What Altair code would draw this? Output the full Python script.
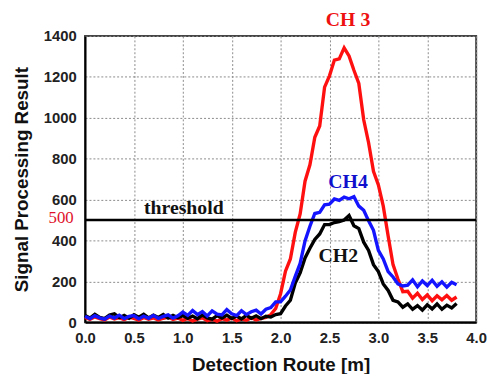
import altair as alt
import pandas as pd

# Detection route positions [m]
route_m = [0.00, 0.05, 0.10, 0.15, 0.20, 0.25, 0.30, 0.35, 0.40, 0.45,
           0.50, 0.55, 0.60, 0.65, 0.70, 0.75, 0.80, 0.85, 0.90, 0.95,
           1.00, 1.05, 1.10, 1.15, 1.20, 1.25, 1.30, 1.35, 1.40, 1.45,
           1.50, 1.55, 1.60, 1.65, 1.70, 1.75, 1.80, 1.85, 1.90, 1.95,
           2.00, 2.05, 2.10, 2.15, 2.20, 2.25, 2.30, 2.35, 2.40, 2.45,
           2.50, 2.55, 2.60, 2.65, 2.70, 2.75, 2.80, 2.85, 2.90, 2.95,
           3.00, 3.05, 3.10, 3.15, 3.20, 3.25, 3.30, 3.35, 3.40, 3.45,
           3.50, 3.55, 3.60, 3.65, 3.70, 3.75, 3.80]

ch3 = [24, 14, 27, 18, 12, 26, 16, 23, 13, 25,
       19, 11, 24, 15, 22, 12, 20, 26, 14, 21,
       10, 19, 7, 16, 22, 8, 15, 6, 18, 11,
       21, 8, 17, 10, 23, 12, 19, 24, 38, 68,
       140, 250, 310, 440, 530, 690, 770, 905, 960, 1150,
       1205, 1282, 1288, 1342, 1302, 1232, 1168, 990, 878, 738,
       672, 568, 422, 282, 212, 150, 152, 118, 142, 112,
       134, 106, 130, 110, 131, 108, 124]

ch4 = [30, 18, 33, 22, 16, 31, 21, 35, 18, 29,
       33, 17, 31, 20, 34, 19, 29, 37, 21, 32,
       50, 34, 58, 38, 53, 31, 56, 40, 36, 62,
       42, 33, 57, 38, 52, 60, 41, 64, 72, 100,
       100, 128, 158, 225, 288, 398, 470, 532, 538, 575,
       578, 603, 596, 612, 604, 614, 568, 548, 496, 450,
       352, 310, 248, 222, 188, 178, 182, 208, 174, 202,
       180, 206, 176, 198, 172, 196, 184]

ch2 = [34, 21, 39, 24, 18, 36, 42, 23, 34, 20,
       37, 25, 40, 22, 35, 24, 38, 21, 34, 23,
       33, 20, 31, 18, 36, 22, 16, 33, 21, 35,
       19, 31, 17, 34, 20, 32, 18, 30, 26, 38,
       42, 80, 108, 192, 242, 315, 362, 405, 432, 478,
       478, 488, 492, 500, 522, 472, 458, 392, 352, 282,
       248, 188, 156, 108, 100, 74, 90, 64, 82, 60,
       86, 66, 90, 64, 84, 70, 92]

threshold_value = 500
x_ticks = [0.0, 0.5, 1.0, 1.5, 2.0, 2.5, 3.0, 3.5, 4.0]
y_ticks = [0, 200, 400, 600, 800, 1000, 1200, 1400]

df = pd.DataFrame({"route": route_m, "CH3": ch3, "CH4": ch4, "CH2": ch2})
thr_df = pd.DataFrame({"x": [0.0], "x2": [4.0], "y": [threshold_value]})

ann_serif = pd.DataFrame({
    "x": [2.69, 2.69, 2.59, 1.01],
    "y": [1477, 686, 323, 560],
    "text": ["CH 3", "CH4", "CH2", "threshold"],
    "color": ["#ee1111", "#1010cc", "#111111", "#111111"],
})
ann_500 = pd.DataFrame({"x": [-0.245], "y": [threshold_value], "text": ["500"]})

SANS = "Liberation Sans"
SERIF = "Liberation Serif"

xscale = alt.Scale(domain=[0, 4], nice=False, zero=False)
yscale = alt.Scale(domain=[0, 1400], nice=False)

x_axis = alt.Axis(values=x_ticks, format=".1f", title="Detection Route [m]",
                  grid=True, gridDash=[2, 2], gridColor="#8a8a8a", gridWidth=1,
                  ticks=False, tickSize=0, labelPadding=8, labelFlush=False,
                  domainColor="#000000", domainWidth=2,
                  labelFont=SANS, labelFontWeight="bold", labelFontSize=15,
                  labelColor="#222222", titleFont=SANS, titleFontWeight="bold",
                  titleFontSize=19, titleColor="#111111", titlePadding=11)
y_axis = alt.Axis(values=y_ticks, format="d", title="Signal Processing Result",
                  grid=True, gridDash=[2, 2], gridColor="#8a8a8a", gridWidth=1,
                  ticks=False, tickSize=0, labelPadding=9, labelFlush=False,
                  domainColor="#000000", domainWidth=2,
                  labelFont=SANS, labelFontWeight="bold", labelFontSize=15,
                  labelColor="#222222", titleFont=SANS, titleFontWeight="bold",
                  titleFontSize=19, titleColor="#111111", titlePadding=12)

base = alt.Chart(df)

grid_layer = alt.Chart(thr_df).mark_rule(opacity=0).encode(
    x=alt.X("x:Q", scale=xscale, axis=x_axis),
    y=alt.Y("y:Q", scale=yscale, axis=y_axis),
)

def series_line(col, color):
    return base.mark_line(color=color, strokeWidth=3.4, strokeJoin="miter").encode(
        x=alt.X("route:Q", scale=xscale),
        y=alt.Y(f"{col}:Q", scale=yscale),
    )

red = series_line("CH3", "#ff1010")
black = series_line("CH2", "#000000")
blue = series_line("CH4", "#1414ff")

thr = alt.Chart(thr_df).mark_rule(color="#000000", strokeWidth=2.5).encode(
    x=alt.X("x:Q", scale=xscale), x2="x2:Q", y=alt.Y("y:Q", scale=yscale)
)

texts = alt.Chart(ann_serif).mark_text(
    font=SERIF, fontWeight="bold", fontSize=20, baseline="middle", align="center", clip=False
).encode(
    x=alt.X("x:Q", scale=xscale), y=alt.Y("y:Q", scale=yscale),
    text="text:N", color=alt.Color("color:N", scale=None),
)

t500 = alt.Chart(ann_500).mark_text(
    font=SERIF, fontSize=17, color="#e0102a", baseline="middle", align="center", dy=-2
).encode(
    x=alt.X("x:Q", scale=xscale), y=alt.Y("y:Q", scale=yscale), text="text:N"
)

chart = alt.layer(grid_layer, red, black, blue, thr, texts, t500).properties(
    width=396, height=290,
    autosize=alt.AutoSizeParams(type="none"),
    padding={"left": 78, "top": 26, "right": 12, "bottom": 50},
    background="white",
).configure_view(stroke="#444444", strokeWidth=2)

chart.save("out.html", embed_options={"renderer": "svg", "actions": False})
